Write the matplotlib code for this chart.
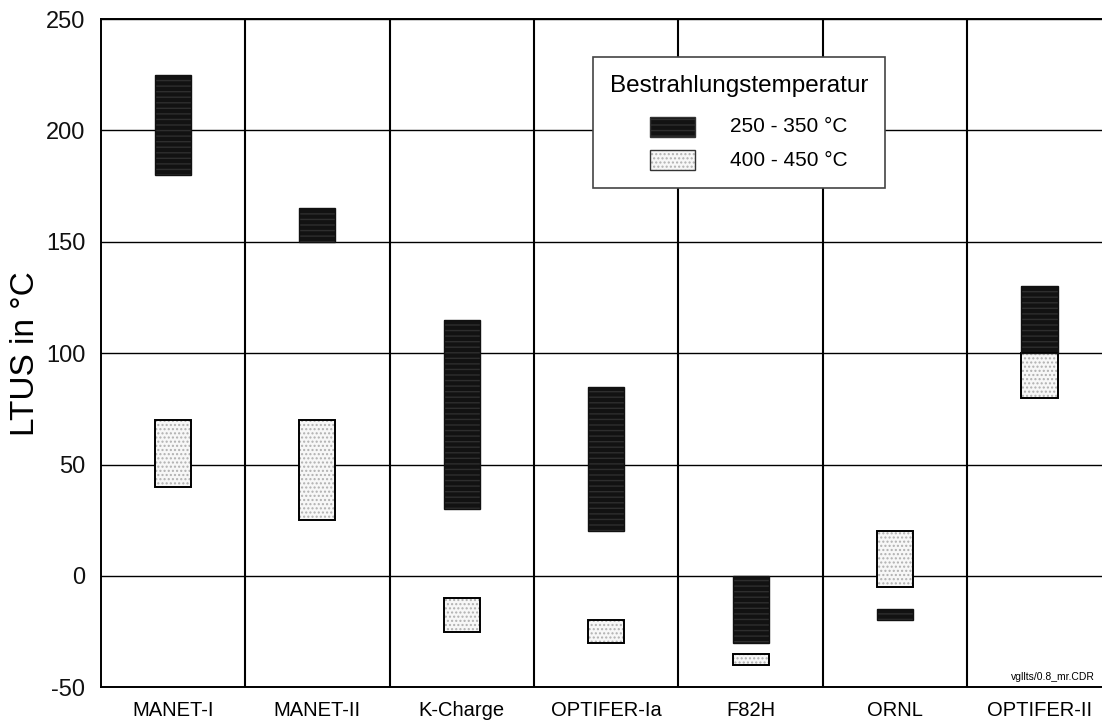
import matplotlib
matplotlib.use("Agg")
import matplotlib.pyplot as plt
from matplotlib.patches import Rectangle

plt.rcParams['font.family'] = ['Liberation Sans', 'DejaVu Sans']
plt.rcParams['axes.unicode_minus'] = False

categories = ["MANET-I", "MANET-II", "K-Charge", "OPTIFER-Ia", "F82H", "ORNL", "OPTIFER-II"]
# 250 - 350 °C (dark): lower and upper LTUS
low_temp_bottom = [180, 150, 30, 20, -30, -20, 100]
low_temp_top = [225, 165, 115, 85, 0, -15, 130]
# 400 - 450 °C (light): lower and upper LTUS
high_temp_bottom = [40, 25, -25, -30, -40, -5, 80]
high_temp_top = [70, 70, -10, -20, -35, 20, 100]
yticks = [-50, 0, 50, 100, 150, 200, 250]
legend_title = "Bestrahlungstemperatur"
legend_labels = ["250 - 350 °C", "400 - 450 °C"]

fig = plt.figure(figsize=(11.02, 7.22), dpi=100)
W, H = 1102, 722
left, right, top, bottom = 100.7, 1111.7, 19, 687.3
ax = fig.add_axes([left / W, 1 - bottom / H, (right - left) / W, (bottom - top) / H])

n = len(categories)
x = [i + 0.5 for i in range(n)]
bw = 0.25

dark_h = [t - b for t, b in zip(low_temp_top, low_temp_bottom)]
light_h = [t - b for t, b in zip(high_temp_top, high_temp_bottom)]

DARK_FC, DARK_HC, DARK_HATCH = '#121212', '#2e2e2e', '---'
LIGHT_FC, LIGHT_HC, LIGHT_HATCH = '#f7f7f7', '#b0b0b0', '....'

# grid
for yv in yticks:
    ax.axhline(yv, color='black', lw=1.0, zorder=1)
for i in range(1, n):
    ax.axvline(i, color='black', lw=1.5, zorder=1)

# light bars: white with grey speckle + black border
ax.bar(x, light_h, bottom=high_temp_bottom, width=bw, color=LIGHT_FC, edgecolor=LIGHT_HC,
       hatch=LIGHT_HATCH, linewidth=0, zorder=3)
ax.bar(x, light_h, bottom=high_temp_bottom, width=bw, fill=False, edgecolor='black',
       linewidth=1.4, zorder=4)
# dark bars
ax.bar(x, dark_h, bottom=low_temp_bottom, width=bw, color=DARK_FC, edgecolor=DARK_HC,
       hatch=DARK_HATCH, linewidth=0, zorder=3)
ax.bar(x, dark_h, bottom=low_temp_bottom, width=bw, fill=False, edgecolor='#111111',
       linewidth=1.0, zorder=4)

ax.set_xlim(0, n)
ax.set_ylim(-50, 250)
ax.set_yticks(yticks)
ax.set_xticks(x)
ax.set_xticklabels(categories, fontsize=14.5)
ax.tick_params(axis='y', length=0, pad=11, labelsize=17)
ax.tick_params(axis='x', length=0, pad=10)
for lab in ax.get_yticklabels():
    lab.set_color('#111111')
ax.set_ylabel("LTUS in °C", fontsize=24, labelpad=6)
ax.yaxis.set_label_coords(-60 / (right - left), 0.5)
for s in ['left', 'bottom', 'top']:
    ax.spines[s].set_linewidth(1.4)
    ax.spines[s].set_color('black')
ax.spines['right'].set_visible(False)

# legend box (axes coordinates)
def ax_xy(px, py):
    return ((px - left) / (right - left), 1 - (py - top) / (bottom - top))

bx0, by0 = ax_xy(593, 188)
bx1, by1 = ax_xy(885, 57)
ax.add_patch(Rectangle((bx0, by0), bx1 - bx0, by1 - by0, transform=ax.transAxes,
                       facecolor='white', edgecolor='#444444', lw=1.2, zorder=6))
tx, ty = ax_xy(739, 86)
ax.text(tx, ty, legend_title, transform=ax.transAxes, fontsize=17.5, ha='center', va='center', zorder=7)
for k, (lab, fc, hc, hatch) in enumerate(zip(legend_labels, [DARK_FC, LIGHT_FC],
                                               [DARK_HC, LIGHT_HC], [DARK_HATCH, LIGHT_HATCH])):
    cy = 127 + k * 33
    px0, py0 = ax_xy(650, cy + 10)
    px1, py1 = ax_xy(695, cy - 10)
    ax.add_patch(Rectangle((px0, py0), px1 - px0, py1 - py0, transform=ax.transAxes,
                           facecolor=fc, edgecolor=hc, hatch=hatch, lw=0, zorder=7))
    ax.add_patch(Rectangle((px0, py0), px1 - px0, py1 - py0, transform=ax.transAxes,
                           fill=False, edgecolor='#333333', lw=1.0, zorder=8))
    lx, ly = ax_xy(730, cy)
    ax.text(lx, ly, lab, transform=ax.transAxes, fontsize=15, ha='left', va='center', zorder=8)

fig.text(1095 / W, 1 - 677 / H, "vgllts/0.8_mr.CDR", fontsize=7.5, ha='right', va='center')

fig.savefig("out.png", dpi=100)
